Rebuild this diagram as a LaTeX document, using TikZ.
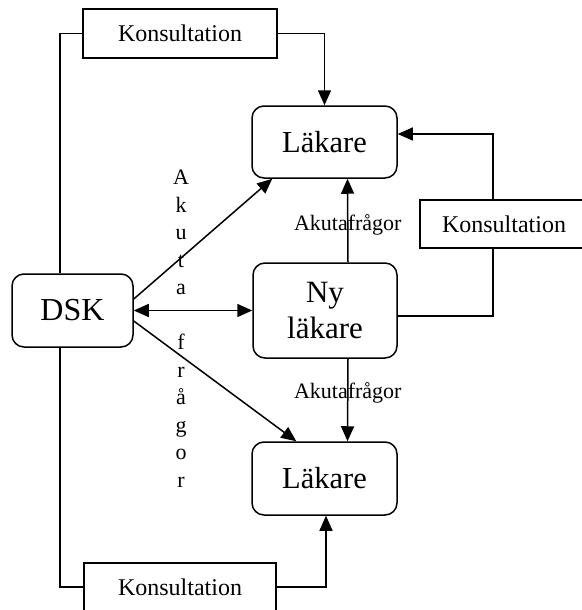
\documentclass[tikz,border=0pt]{standalone}
\usepackage{fontspec}
\setmainfont{Liberation Serif}
\usetikzlibrary{arrows.meta}
\begin{document}
\begin{tikzpicture}[x=1pt,y=-1pt,
  line width=1.5pt,
  arr/.style={-{Triangle[length=15pt,width=13pt]}},
  arrb/.style={{Triangle[length=15pt,width=13pt]}-{Triangle[length=15pt,width=13pt]}},
  rbox/.style={draw,rounded corners=12pt,inner sep=0pt,align=center},
  kbox/.style={draw,inner sep=0pt,font=\fontsize{24}{26}\selectfont},
  lab/.style={inner sep=0pt,font=\fontsize{22}{24}\selectfont},
  vlet/.style={inner sep=0pt,anchor=base,font=\fontsize{22}{26}\selectfont}]
\useasboundingbox (0,0) rectangle (581,610);
% boxes
\node[kbox,minimum width=194pt,minimum height=49pt] (kt) at (180,33.5) {Konsultation};
\node[kbox,minimum width=168pt,minimum height=48pt] (kr) at (504,224) {Konsultation};
\node[kbox,minimum width=192pt,minimum height=48pt] (kb) at (180,587) {Konsultation};
\node[rbox,minimum width=145pt,minimum height=72pt,font=\fontsize{30.5}{36}\selectfont] (l1) at (324.5,142) {Läkare};
\node[rbox,minimum width=145pt,minimum height=73pt,font=\fontsize{30.5}{36}\selectfont] (l2) at (324.5,478.5) {Läkare};
\node[rbox,minimum width=144pt,minimum height=95pt,font=\fontsize{31}{36}\selectfont] (ny) at (325,310.5) {Ny\\läkare};
\node[rbox,minimum width=121pt,minimum height=73pt,font=\fontsize{32}{36}\selectfont] (dsk) at (72.5,310.5) {DSK};
% connectors
\coordinate (c1) at (60,33.5);
\coordinate (c2) at (60,587);
\draw (kt.west) -- (c1) -- (c1 |- dsk.north);
\draw (kb.west) -- (c2) -- (c2 |- dsk.south);
\draw[arr] (kt.east) -| (l1.north);
\draw[arr] (kb.east) -| ([xshift=1.5pt]l2.south);
\draw[arr] ([xshift=-11pt]kr.north) |- ([yshift=8pt]l1.east);
\draw ([xshift=-11pt]kr.south) |- ([yshift=-5.5pt]ny.east);
\draw[arrb] (dsk.east) -- (ny.west);
\draw[arr] ([yshift=11.5pt]dsk.east) -- ([xshift=21pt]l1.south west);
\draw[arr] ([yshift=-10.5pt]dsk.east) -- ([xshift=45pt]l2.north west);
\draw[arr] ([xshift=23pt]ny.north) -- node[lab,pos=0.45] (a1) {Akutafrågor} ([xshift=23pt]l1.south);
\draw[arr] ([xshift=23pt]ny.south) -- node[lab,pos=0.42] (a2) {Akutafrågor} ([xshift=23pt]l2.north);
% vertical text
\foreach \ch [count=\i] in {A,k,u,t,a,{},f,r,å,g,o,r}
  \node[vlet] (v\i) at (181,{184.5+27.5*(\i-1)}) {\ch};
\end{tikzpicture}
\end{document}
